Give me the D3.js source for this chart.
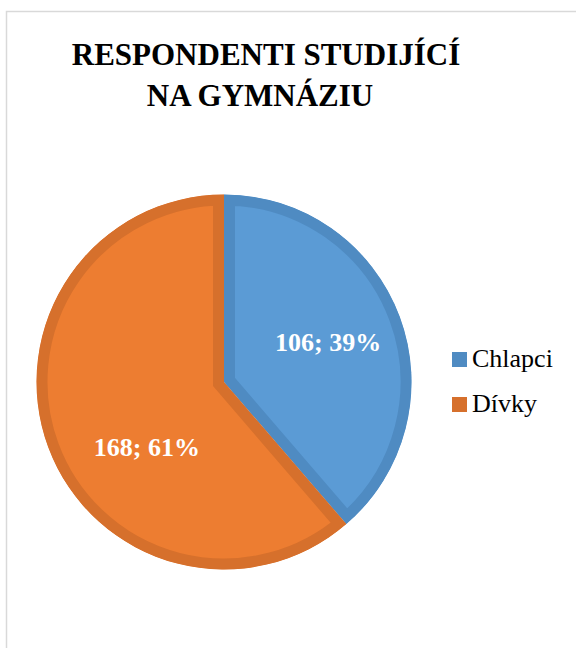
<!DOCTYPE html>
<meta charset="utf-8">
<style>
  body { margin: 0; background: #fff; }
  .title { font-family: "Times New Roman", "Liberation Serif", serif; font-weight: bold; font-size: 31px; fill: #000; }
  .lbl { font-family: "Times New Roman", "Liberation Serif", serif; font-weight: bold; font-size: 26px; fill: #fff; }
  .legend text { font-family: "Times New Roman", "Liberation Serif", serif; font-size: 26px; fill: #000; }
</style>
<script src="https://d3js.org/d3.v7.min.js"></script>
<div id="chart"></div>
<script>
  var categories = ["Chlapci", "Dívky"];
  var values = [106, 168];
  var percents = ["39%", "61%"];
  var fills = ["#5b9bd5", "#ed7d31"];
  var borders = ["#4f8bc2", "#d6702c"];

  var width = 576, height = 648;
  var cx = 224, cy = 382, radius = 187.5;

  var svg = d3.select("#chart").append("svg")
      .attr("width", width)
      .attr("height", height);

  // chart area frame
  svg.append("rect")
    .attr("x", 6.5).attr("y", 11.5)
    .attr("width", width).attr("height", height)
    .attr("fill", "none")
    .attr("stroke", "#d9d9d9")
    .attr("stroke-width", 1.5);

  var title = svg.append("text").attr("class", "title").attr("text-anchor", "middle");
  title.append("tspan").attr("x", 266).attr("y", 65).text("RESPONDENTI STUDIJÍCÍ");
  title.append("tspan").attr("x", 260).attr("y", 106).text("NA GYMNÁZIU");

  var data = categories.map(function(c, i) {
    return {name: c, value: values[i], pct: percents[i], i: i};
  });

  var pie = d3.pie().sort(null).value(function(d) { return d.value; });
  var arc = d3.arc().innerRadius(0).outerRadius(radius);
  var arcs = pie(data);

  var g = svg.append("g").attr("transform", "translate(" + cx + "," + cy + ")");
  var defs = svg.append("defs");

  arcs.forEach(function(a, i) {
    defs.append("clipPath").attr("id", "clip" + i)
      .append("path").attr("d", arc(a));
  });

  // border drawn inside each slice (stroke clipped to its own shape)
  g.selectAll("path.slice")
    .data(arcs)
    .enter().append("path")
      .attr("class", "slice")
      .attr("d", arc)
      .attr("fill", function(d) { return fills[d.data.i]; })
      .attr("stroke", function(d) { return borders[d.data.i]; })
      .attr("stroke-width", 22)
      .attr("stroke-linejoin", "miter")
      .attr("clip-path", function(d) { return "url(#clip" + d.data.i + ")"; });

  // label nudges like the original layout
  var labelShift = [[0, 0], [27, 27]];
  var labelArc = d3.arc().innerRadius(111).outerRadius(111);
  g.selectAll("text.lbl")
    .data(arcs)
    .enter().append("text")
      .attr("class", "lbl")
      .attr("text-anchor", "middle")
      .attr("x", function(d) { return labelArc.centroid(d)[0] + labelShift[d.data.i][0]; })
      .attr("y", function(d) { return labelArc.centroid(d)[1] + 8 + labelShift[d.data.i][1]; })
      .text(function(d) { return d.data.value + "; " + d.data.pct; });

  var legend = svg.append("g").attr("class", "legend")
    .attr("transform", "translate(452,352)");
  var item = legend.selectAll("g")
    .data(data)
    .enter().append("g")
      .attr("transform", function(d, i) { return "translate(0," + i * 45 + ")"; });
  item.append("rect")
    .attr("width", 15).attr("height", 15)
    .attr("fill", function(d) { return borders[d.i]; });
  item.append("text")
    .attr("x", 20).attr("y", 15)
    .text(function(d) { return d.name; });
</script>
